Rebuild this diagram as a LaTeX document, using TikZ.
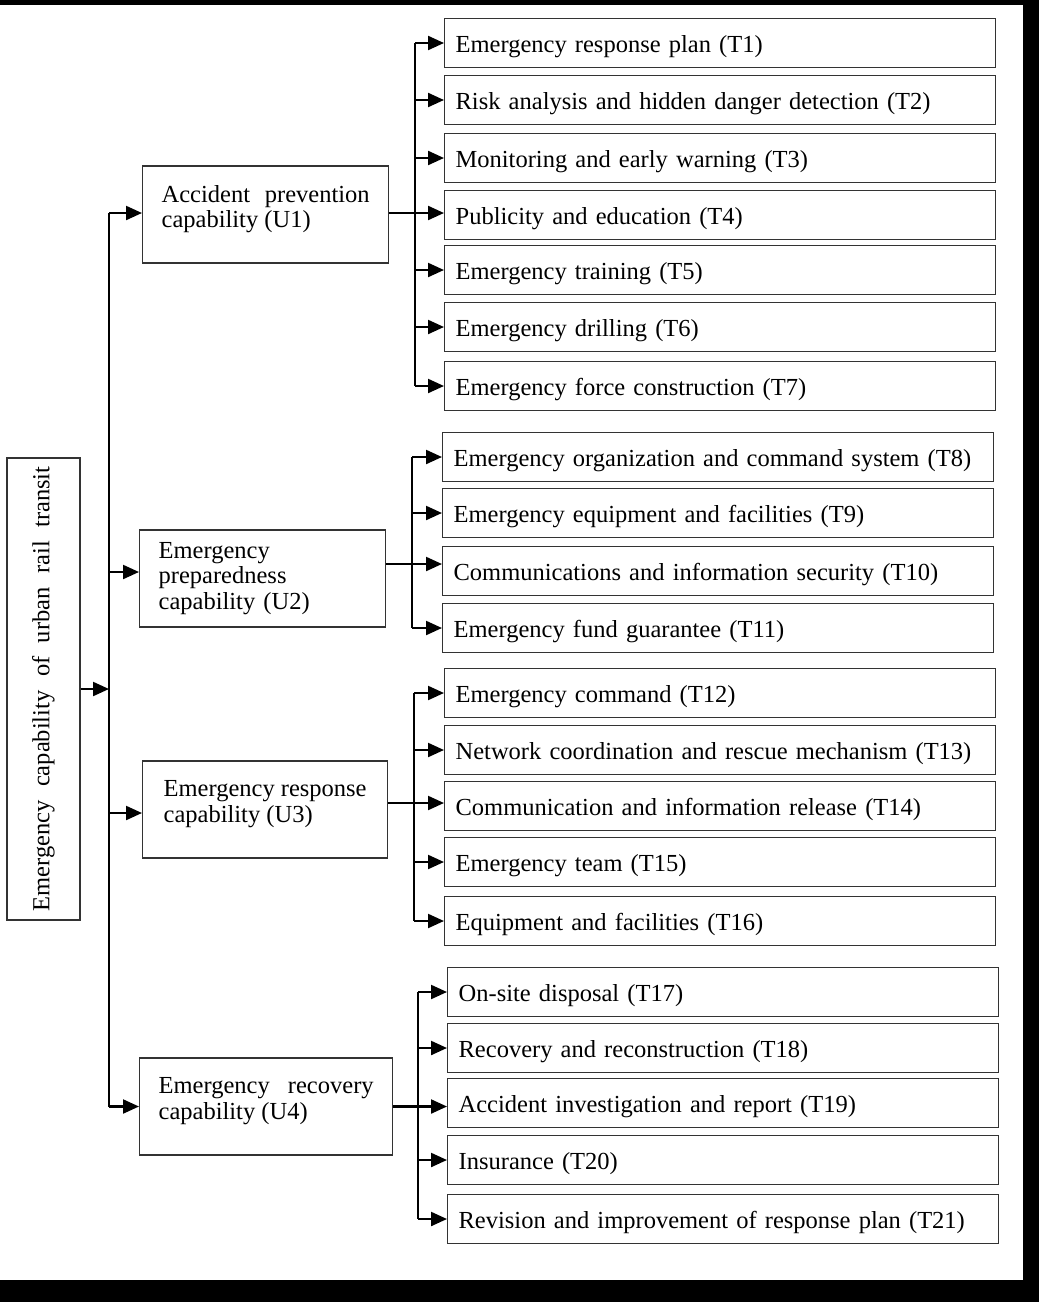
\documentclass[tikz,border=0pt]{standalone}
\usepackage{fontspec}
\setmainfont{Liberation Serif}
\usetikzlibrary{arrows.meta}

\begin{document}
\begin{tikzpicture}[x=1pt,y=-1pt,
  every node/.style={font=\fontsize{24.5}{25.5}\selectfont},
  ubox/.style={draw=black!80,line width=1.3pt,anchor=west,minimum height=97pt,inner xsep=19pt,align=left},
  tbox/.style={draw=black!80,line width=1.3pt,anchor=west,minimum width=551pt,minimum height=49pt,inner xsep=11pt,
    text width=529pt,text height=23pt,text depth=4pt,align=left},
  link/.style={line width=2.2pt},
  arr/.style={line width=2.2pt,-{Triangle[length=16pt,width=14pt]}}]
  % frame
  \useasboundingbox (0,0) rectangle (1039,1302);
  \fill[black] (0,0) rectangle (1039,1302);
  \fill[white] (0,5) rectangle (1023,1280);

  \coordinate (trunk) at (109,0);
  \coordinate (bus1) at (415,0);
  \coordinate (bus2) at (412,0);
  \coordinate (bus3) at (414,0);
  \coordinate (bus4) at (418,0);

  \node[draw=black!80,line width=1.3pt,rotate=90,minimum width=462pt,minimum height=73pt] (root) at (43.5,689)
    {\makebox[445pt][s]{Emergency capability of urban rail transit}};

  \node[ubox,minimum width=246pt,text depth=16pt] (u1) at (142,214.5) {\makebox[208pt][s]{Accident prevention}\\capability (U1)};
  \node[ubox,minimum width=246pt,text width=208pt] (u2) at (139,578.5) {Emergency\\preparedness\\capability (U2)};
  \node[ubox,minimum width=245pt,text depth=16pt] (u3) at (142,809.5) {Emergency response\\capability (U3)};
  \node[ubox,minimum width=253pt,text depth=16pt] (u4) at (139,1106.5) {\makebox[215pt][s]{Emergency recovery}\\capability (U4)};

  \foreach \n/\y/\txt in {1/43/Emergency response plan (T1),2/100/Risk analysis and hidden danger detection (T2),
      3/158/Monitoring and early warning (T3),4/215/Publicity and education (T4),5/270/Emergency training (T5),
      6/327/Emergency drilling (T6),7/386/Emergency force construction (T7)}
    \node[tbox] (t\n) at (444,\y) {\txt};
  \foreach \n/\y/\txt in {8/457/Emergency organization and command system (T8),9/513/Emergency equipment and facilities (T9),
      10/571/Communications and information security (T10),11/628/Emergency fund guarantee (T11)}
    \node[tbox] (t\n) at (442,\y) {\txt};
  \foreach \n/\y/\txt in {12/693/Emergency command (T12),13/750/Network coordination and rescue mechanism (T13),
      14/806/Communication and information release (T14),15/862/Emergency team (T15),16/921/Equipment and facilities (T16)}
    \node[tbox] (t\n) at (444,\y) {\txt};
  \foreach \n/\y/\txt in {17/992/On-site disposal (T17),18/1048/Recovery and reconstruction (T18),
      19/1103/Accident investigation and report (T19),20/1160/Insurance (T20),21/1219/Revision and improvement of response plan (T21)}
    \node[tbox] (t\n) at (447,\y) {\txt};

  % root to U boxes
  \draw[arr] (root.south) -- (root.south -| trunk);
  \draw[link] ([yshift=1.5pt]u1.west -| trunk) -- (u4.west -| trunk);
  \draw[arr] ([yshift=1.5pt]u1.west -| trunk) -- ([yshift=1.5pt]u1.west);
  \draw[arr] ([yshift=6.5pt]u2.west -| trunk) -- ([yshift=6.5pt]u2.west);
  \draw[arr] ([yshift=-3.5pt]u3.west -| trunk) -- ([yshift=-3.5pt]u3.west);
  \draw[arr] (u4.west -| trunk) -- (u4.west);

  % U boxes to T boxes
  \draw[link] (t1.west -| bus1) -- (t7.west -| bus1);
  \draw[arr] ([yshift=1.5pt]u1.east) -- ([yshift=1.5pt]u1.east -| t4.west);
  \foreach \n in {1,2,3,5,6,7}
    \draw[arr] (t\n.west -| bus1) -- (t\n.west);

  \draw[link] (t8.west -| bus2) -- (t11.west -| bus2);
  \draw[arr] ([yshift=14.5pt]u2.east) -- ([yshift=14.5pt]u2.east -| t10.west);
  \foreach \n in {8,9,11}
    \draw[arr] (t\n.west -| bus2) -- (t\n.west);

  \draw[link] (t12.west -| bus3) -- (t16.west -| bus3);
  \draw[arr] ([yshift=6.5pt]u3.east) -- ([yshift=6.5pt]u3.east -| t14.west);
  \foreach \n in {12,13,15,16}
    \draw[arr] (t\n.west -| bus3) -- (t\n.west);

  \draw[link] (t17.west -| bus4) -- (t21.west -| bus4);
  \draw[arr] (u4.east) -- (u4.east -| t19.west);
  \foreach \n in {17,18,20,21}
    \draw[arr] (t\n.west -| bus4) -- (t\n.west);
\end{tikzpicture}
\end{document}
